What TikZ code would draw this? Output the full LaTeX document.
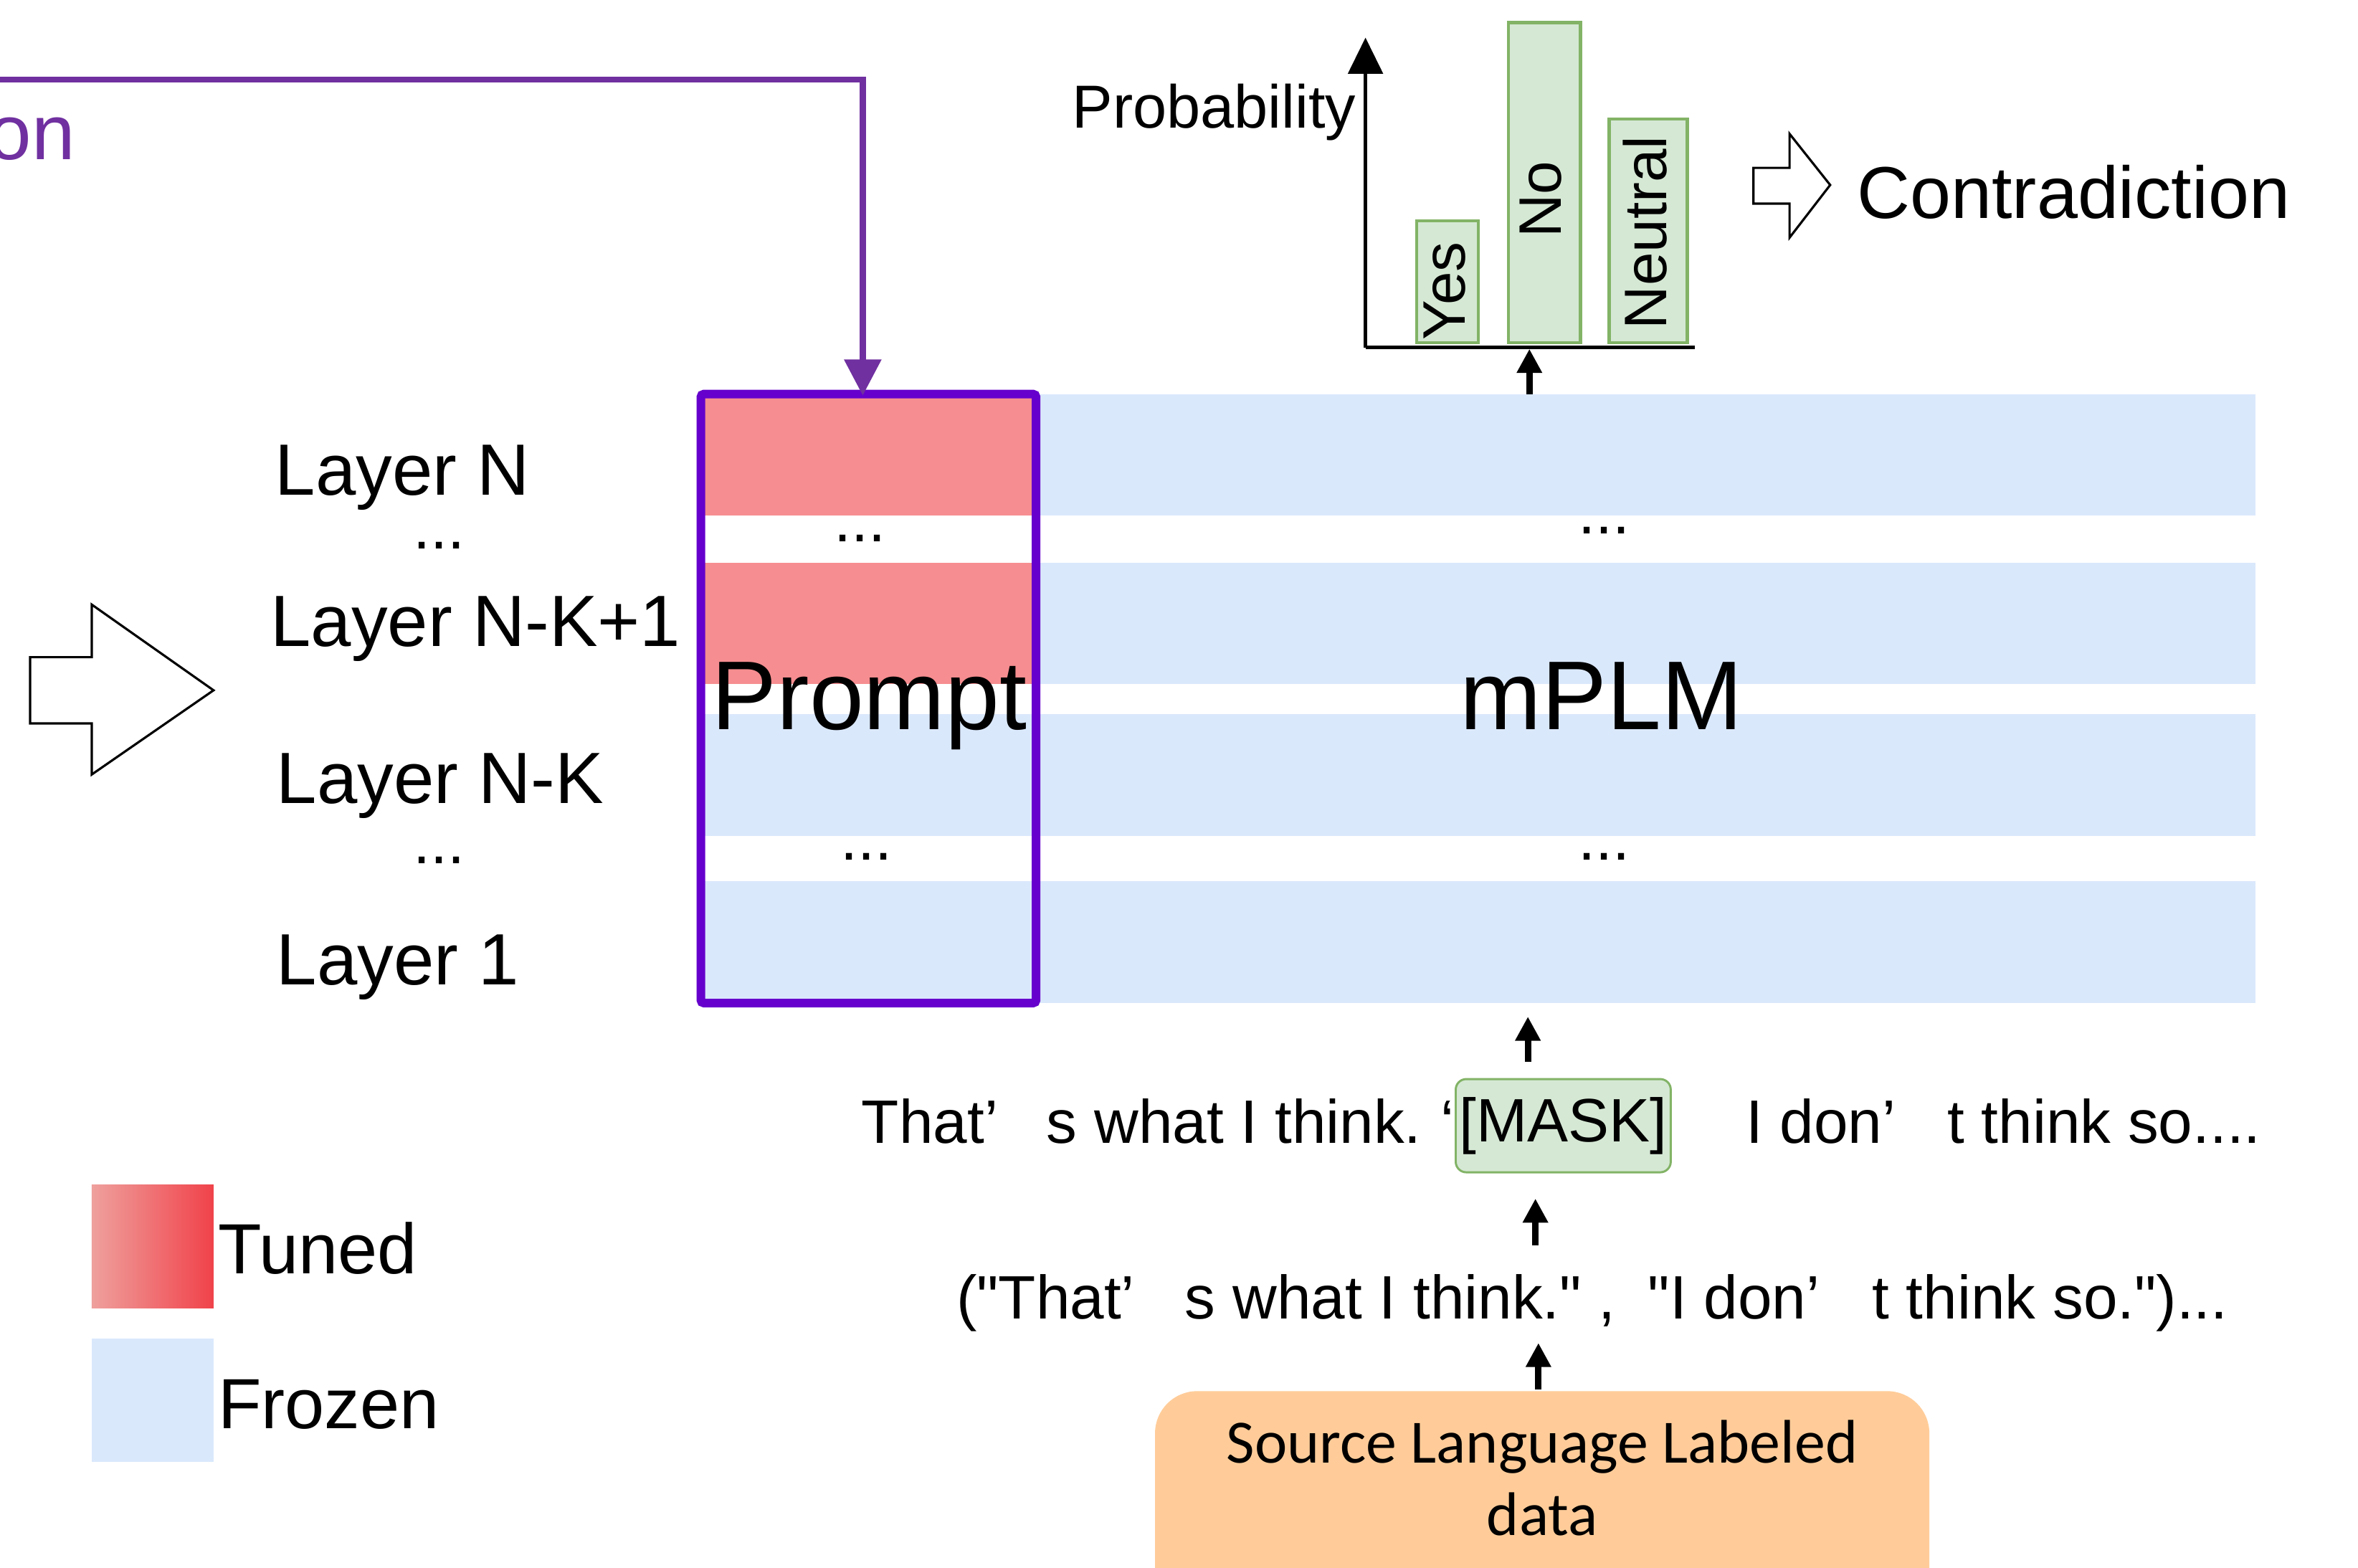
\documentclass[tikz,border=0pt]{standalone}
\usepackage{fontspec}
\setmainfont{Liberation Sans}[Ligatures=TeXOff]
\newfontfamily\calibrifont{Carlito}
\usetikzlibrary{arrows.meta}

\definecolor{tunedred}{RGB}{246,141,144}
\definecolor{frozenblue}{RGB}{218,232,252}
\definecolor{barfill}{RGB}{213,232,212}
\definecolor{barline}{RGB}{130,179,102}
\definecolor{srcorange}{RGB}{255,204,153}
\definecolor{linkpurple}{RGB}{112,48,160}
\definecolor{promptviolet}{RGB}{102,0,204}
\definecolor{gradlight}{RGB}{239,160,157}
\definecolor{gradmid}{RGB}{240,138,137}
\definecolor{graddark}{RGB}{240,66,74}

\tikzset{
  txt/.style={inner sep=0pt, outer sep=0pt},
  layerlbl/.style={txt, anchor=base west, font=\fontsize{27.5}{33}\selectfont},
  bigword/.style={txt, anchor=base, font=\fontsize{37}{44}\selectfont},
  dotsrow/.style={txt, anchor=base, font=\fontsize{23.5}{28}\selectfont},
  sentence/.style={txt, anchor=base west, font=\fontsize{23.2}{28}\selectfont},
  legendlbl/.style={txt, anchor=base west, font=\fontsize{26.9}{32}\selectfont},
  srclbl/.style={txt, anchor=base, font=\calibrifont\fontsize{23.3}{28}\selectfont},
  bar/.style={draw=barline, fill=barfill, line width=0.04cm, inner sep=0pt, anchor=south west},
  barlbl/.style={txt, rotate=90, anchor=base west, font=\fontsize{22.7}{27}\selectfont},
  uparrow/.style={line width=0.086cm, -{Triangle[length=0.32cm,width=0.32cm]}},
  hollowarrow/.style={draw=black, line width=0.03cm, fill=white, line join=miter},
}

\begin{document}
\begin{tikzpicture}[x=0.02cm, y=-0.02cm]
\useasboundingbox (0,0) rectangle (1568,1042.6);

% ---- layer bands of the model ----
\fill[frozenblue] (466,262) rectangle (1500,343);
\fill[frozenblue] (466,374) rectangle (1500,455);
\fill[frozenblue] (466,475) rectangle (1500,556);
\fill[frozenblue] (466,586) rectangle (1500,667);
% tuned prompt part of the upper K layers
\fill[tunedred] (466,262) rectangle (689,343);
\fill[tunedred] (466,374) rectangle (689,455);

% prompt column frame
\node[draw=promptviolet, line width=0.114cm, rounded corners=0.04cm,
      minimum width=4.46cm, minimum height=8.1cm, inner sep=0pt] (pbox) at (577.5,464.5) {};

\node[bigword] (promptlbl) at (578,485) {Prompt};
\node[bigword] (plmlbl) at (1065,485) {mPLM};

% dots between layers
\node[dotsrow] (pdots1) at (572,360) {...};
\node[dotsrow] (pdots2) at (576,572) {...};
\node[dotsrow] (mdots1) at (1066.6,354.7) {...};
\node[dotsrow] (mdots2) at (1066.6,572) {...};
\node[dotsrow] (ldots1) at (292,365) {...};
\node[dotsrow] (ldots2) at (292,574) {...};

% layer names
\node[layerlbl] (layN)   at (183,329) {Layer N};
\node[layerlbl] (layNK1) at (180,430) {Layer N-K+1};
\node[layerlbl] (layNK)  at (184,534) {Layer N-K};
\node[layerlbl] (lay1)   at (184,655) {Layer 1};

% big hollow arrow on the left
\draw[hollowarrow] (20,437) -- (61,437) -- (61,402) -- (142,459) -- (61,515)
  -- (61,481) -- (20,481) -- cycle;

% purple link coming from the left into the prompt
\node[txt, anchor=base east, text=linkpurple, font=\fontsize{29.5}{35}\selectfont] (onlbl) at (50,106) {on};
\coordinate (linkstart) at (-10,53);
\coordinate (linktip) at (573.7,263);
\draw[linkpurple, line width=0.08cm, -{Triangle[length=0.48cm,width=0.48cm]}]
  (linkstart) -| (linktip);

% ---- probability chart ----
\coordinate (origin) at (908,231);
\coordinate (yaxistop) at (908,25);
\coordinate (xaxisend) at (1127,231);
\draw[line width=0.044cm, -{Triangle[length=0.48cm,width=0.46cm]}] (origin) -- (yaxistop);
\draw[line width=0.04cm] (origin) -- (xaxisend);

\node[bar, minimum width=0.82cm, minimum height=1.62cm] (baryes) at (941,229) {};
\node[bar, minimum width=0.96cm, minimum height=4.26cm] (barno) at (1002,229) {};
\node[bar, minimum width=1.04cm, minimum height=2.98cm] (barneu) at (1069,229) {};
\node[barlbl] (yeslbl) at (974,226) {Yes};
\node[barlbl] (nolbl)  at (1038,158) {No};
\node[barlbl] (neulbl) at (1108,219) {Neutral};

\node[txt, anchor=base west, font=\fontsize{23}{28}\selectfont] (problbl) at (713,85) {Probability};

% verdict
\draw[hollowarrow] (1166,111.6) -- (1190,111.6) -- (1190,89) -- (1217,123) -- (1190,158)
  -- (1190,135.4) -- (1166,135.4) -- cycle;
\node[txt, anchor=base west, font=\fontsize{27.8}{33}\selectfont] (verdict) at (1235,145) {Contradiction};

% model output to the chart
\coordinate (outtail) at (1017,262);
\coordinate (outtip) at (1017,232);
\draw[uparrow] (outtail) -- (outtip);

% ---- input side ----
\node[sentence] (s1a) at (573,760) {That’};
\node[sentence] (s1b) at (696,760) {s what I think.};
\node[sentence] (s1c) at (958,760) {‘};
\node[draw=barline, fill=barfill, line width=0.028cm, rounded corners=0.14cm,
      minimum width=2.86cm, minimum height=1.24cm, inner sep=0pt,
      font=\fontsize{23.2}{28}\selectfont] (mask) at (1039.5,748.5) {[MASK]};
\node[sentence] (s1d) at (1161,760) {I don’};
\node[sentence] (s1e) at (1295,760) {t think so....};

\node[sentence] (s2a) at (636,877) {("That’};
\node[sentence] (s2b) at (788,877) {s what I think." ,};
\node[sentence] (s2c) at (1096,877) {"I don’};
\node[sentence] (s2d) at (1245,877) {t think so.")...};

\node[fill=srcorange, rounded corners=0.56cm, minimum width=10.3cm, minimum height=3.4cm,
      inner sep=0pt] (src) at (1025.5,1010) {};
\node[srclbl] (srcA) at (1025.5,973) {Source Language Labeled};
\node[srclbl] (srcB) at (1025.5,1021) {data};

\coordinate (a1s) at (1016,706);
\coordinate (a1e) at (1016,676);
\coordinate (a2s) at (1021,828);
\coordinate (a2e) at (1021,797);
\coordinate (a3s) at (1023,924);
\coordinate (a3e) at (1023,893);
\draw[uparrow] (a1s) -- (a1e);
\draw[uparrow] (a2s) -- (a2e);
\draw[uparrow] (a3s) -- (a3e);

% ---- legend ----
\shade[left color=gradlight, middle color=gradmid, right color=graddark] (61,788) rectangle (142,870);
\fill[frozenblue] (61,890) rectangle (142,972);
\node[legendlbl] (tunedlbl) at (145,847) {Tuned};
\node[legendlbl] (frozenlbl) at (145,950) {Frozen};
\end{tikzpicture}
\end{document}
